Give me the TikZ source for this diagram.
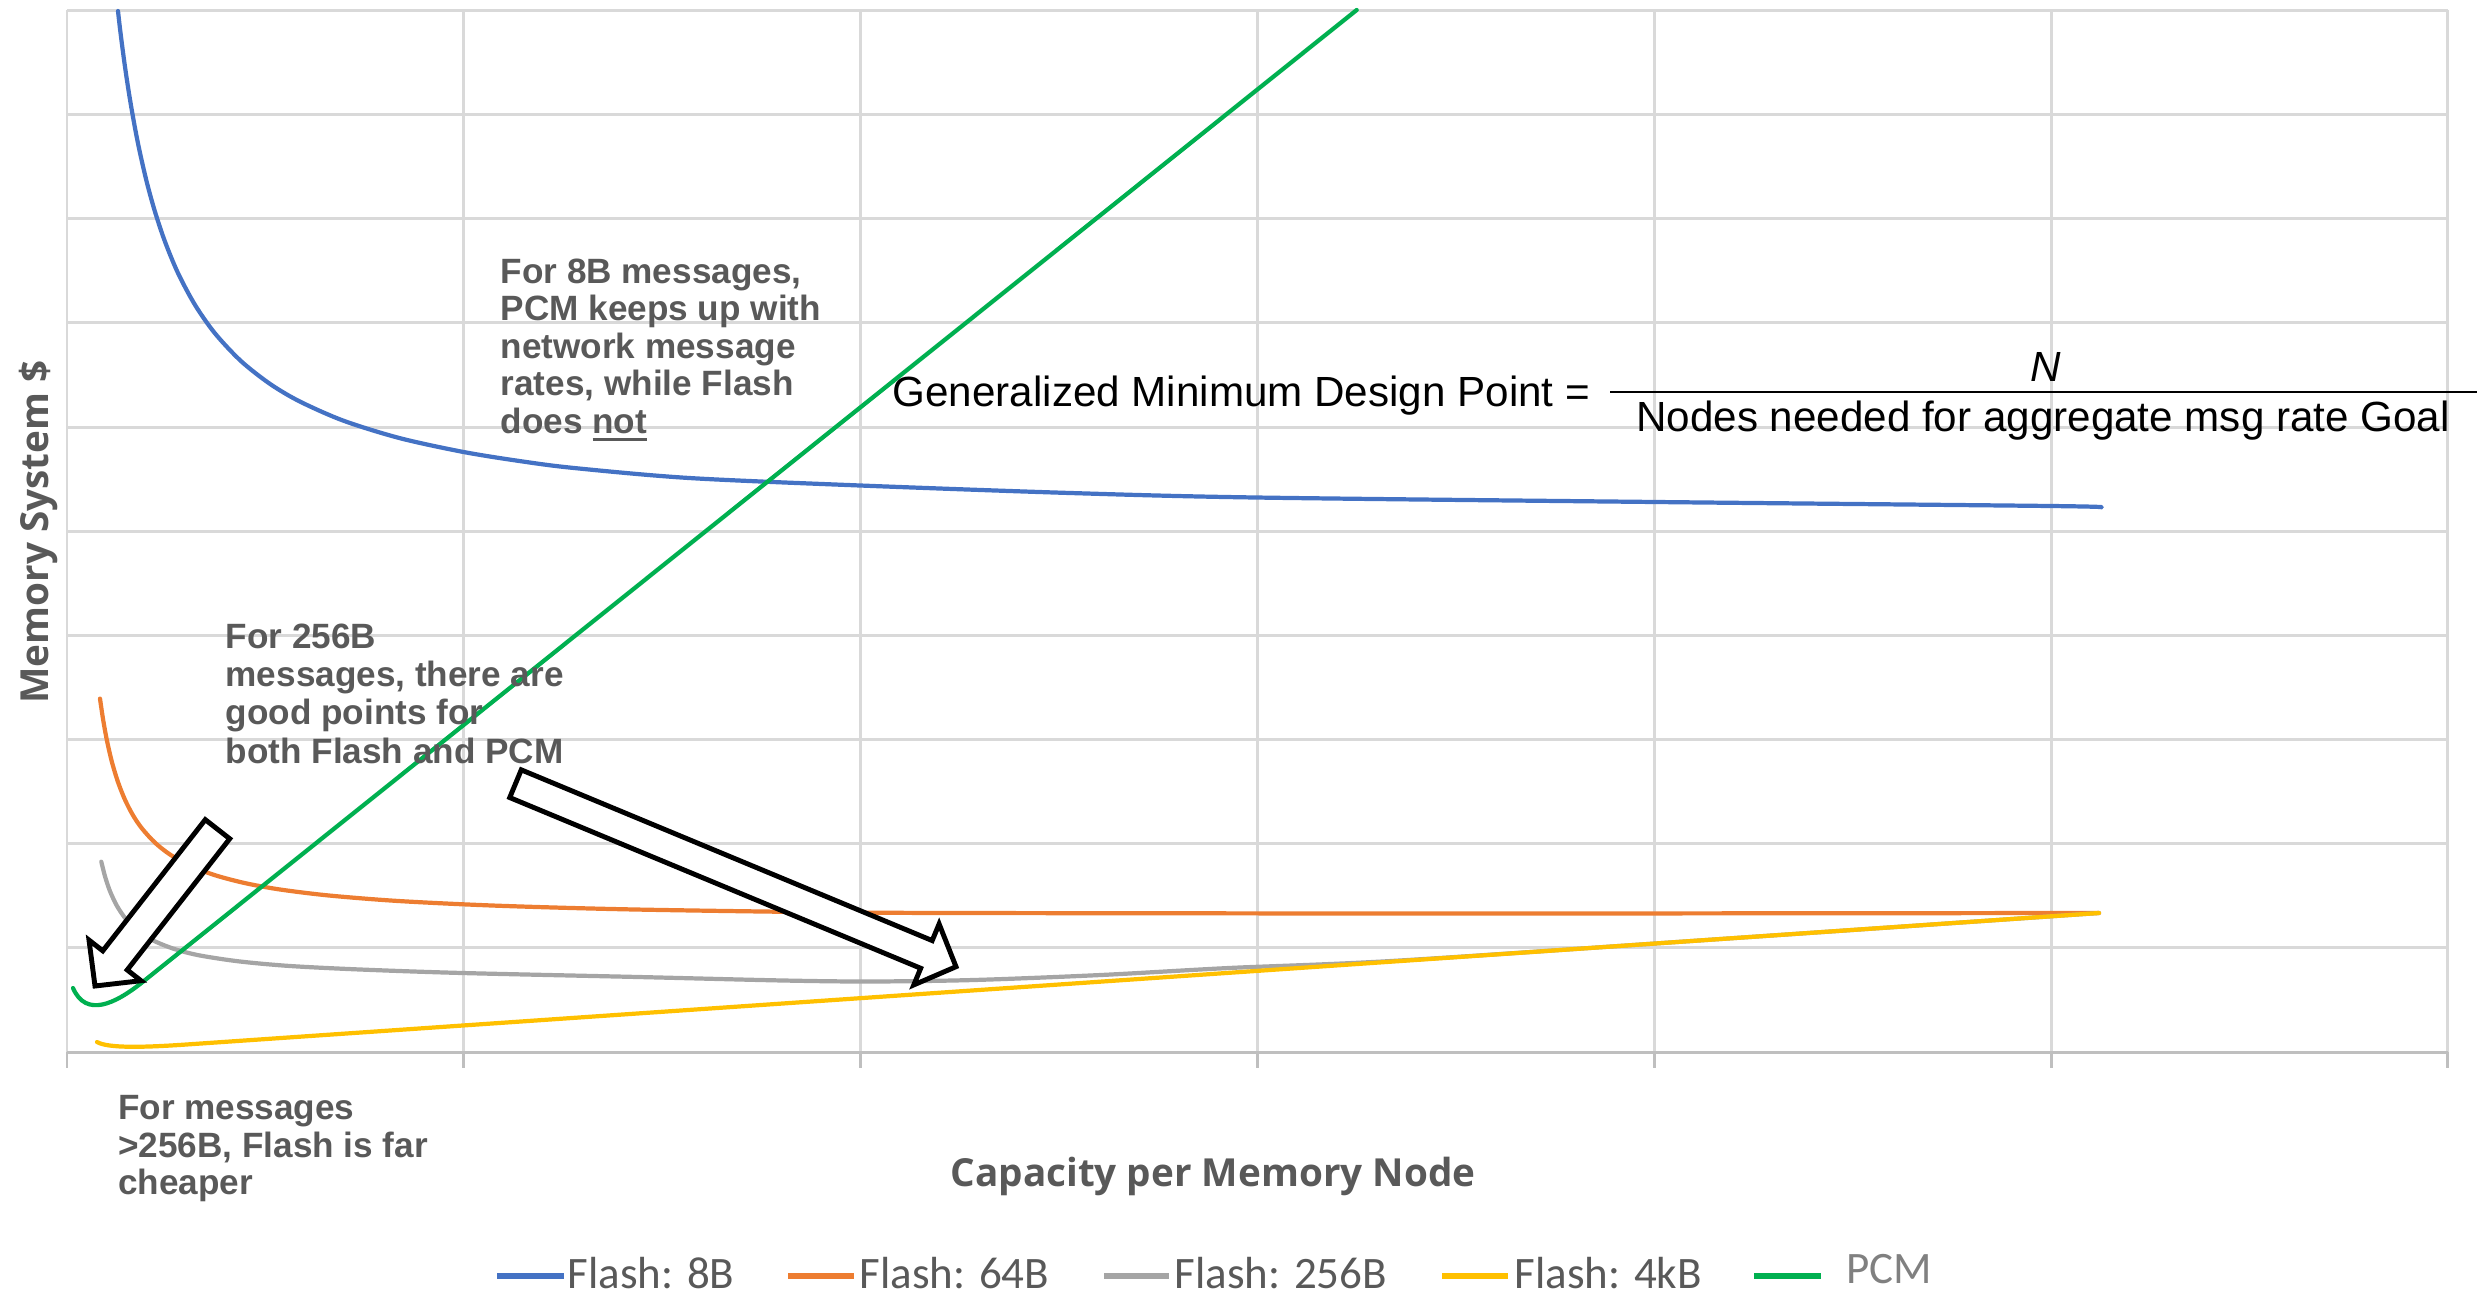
\documentclass[tikz,border=0pt]{standalone}
\usepackage{fontspec}
\setmainfont{Liberation Sans}
\newfontfamily\legfont{Carlito}
\newfontfamily\axfont{Open Sans}
\usetikzlibrary{calc}
\definecolor{cblue}{HTML}{4472C4}
\definecolor{corange}{HTML}{ED7D31}
\definecolor{cgray}{HTML}{A5A5A5}
\definecolor{cyellow}{HTML}{FFC000}
\definecolor{cgreen}{HTML}{00B050}
\definecolor{cgrid}{HTML}{D9D9D9}
\definecolor{caxis}{HTML}{BFBFBF}
\definecolor{ctext}{HTML}{595959}
\definecolor{clight}{HTML}{808080}
\newsavebox\ulbox
\newcommand\ulword[1]{\sbox\ulbox{#1}\rlap{\rule[-2.2pt]{\wd\ulbox}{0.9pt}}\usebox\ulbox}
\begin{document}
\begin{tikzpicture}[x=0.1mm, y=-0.1mm,
  gridline/.style={cgrid, line width=0.85pt},
  axisline/.style={caxis, line width=0.85pt},
  curve/.style={line width=1.2pt, line join=round, line cap=round},
  legline/.style={line width=1.45pt},
  note/.style={font=\bfseries\fontsize{10}{10.67}\selectfont, text=ctext, align=left, inner sep=0pt, anchor=north west},
  formula/.style={font=\fontsize{12}{14}\selectfont, text=black, inner sep=0pt},
  axtitle/.style={font=\axfont\bfseries\fontsize{11}{12}\selectfont, text=ctext, inner sep=0pt},
  legtext/.style={font=\legfont\fontsize{12.8}{14}\selectfont, text=ctext, inner sep=0pt, anchor=base west},
  blockarrow/.style={draw=black, fill=white, line width=1.4pt, line join=miter}]
\useasboundingbox (0,0) rectangle (2483,1304);

% grid
\foreach \i in {0,...,6}
  \draw[gridline] ({67+396.8*\i},10.5) -- ({67+396.8*\i},1052);
\foreach \j in {0,...,9}
  \draw[gridline] (67,{10.5+104.15*\j}) -- (2448,{10.5+104.15*\j});
\draw[axisline] (67,1052) -- (2448,1052);
\foreach \i in {0,...,6}
  \draw[axisline] ({67+396.8*\i},1052) -- ({67+396.8*\i},1068);

% series
\draw[curve, cblue] plot[smooth] coordinates {(118,11) (120,28.6) (123,52.2) (126,73.8) (130,99.6) (135,128) (140,152.9) (147,183) (155,211.8) (165,241.7) (178,273.1) (195,304.9) (215,333.4) (241,361.1) (270,383.9) (300,401.6) (344,420.9) (400,438.2) (463,451.9) (520,461.1) (574,468) (689,478) (860,485.5) (1070,493) (1255,497.5) (1655,502) (2050,506) (2101,507.3)};
\draw[curve, corange] plot[smooth] coordinates {(100,698.6) (103,718.9) (107,740.8) (112,762.3) (118,782.1) (125,799.8) (133,815.3) (142,828.5) (155,842.7) (170,854.5) (190,865.6) (215,875.2) (245,883.1) (280,889.5) (330,895.6) (400,901.1) (500,905.8) (640,909.6) (860,912.6) (1100,913.2) (1500,913.5) (2099,913)};
\draw[curve, cgray] plot[smooth] coordinates {(101.3,861.7) (105,876.3) (110,891.2) (117,906) (126,919.2) (137,930.1) (153,940.4) (175,949.2) (200,955.5) (240,961.5) (290,966) (360,969.5) (462,973) (638,977) (783,980.5) (870,981.5) (974,980) (1101,975) (1229,968) (1400,960.5) (1750,937) (2099,913)};
\draw[curve, cyellow] (97,1042) .. controls (108,1048.5) and (145,1047.3) .. (185,1044.6) -- (2099,913);
\draw[curve, cgreen] (73,988) .. controls (86,1018) and (115,1004.1) .. (143,981.7) -- (1356.7,10);

% annotations
\node[note] (n8) at (500,258) {For 8B messages,\\PCM keeps up with\\network message\\rates, while Flash\\does \ulword{not}};
\node[note, font=\bfseries\fontsize{10}{10.9}\selectfont] (n256) at (225,623) {For 256B\\messages, there are\\good points for\\both Flash and PCM};
\node[note] (nbig) at (117.5,1095) {For messages\\>256B, Flash is far\\cheaper};

% formula
\node[formula, anchor=base west] (gmdp) at (892,407) {Generalized Minimum Design Point =};
\draw[black, line width=0.8pt] (1610,392) -- (2477,392);
\node[formula, anchor=base] (num) at (2046,381.7) {\itshape N};
\node[formula, anchor=base] (den) at (2043,431.7) {Nodes needed for aggregate msg rate Goal};

% axis titles
\node[axtitle, anchor=base] (xt) at (1213,1186.7) {Capacity per Memory Node};
\node[axtitle, anchor=base, rotate=90] (yt) at (48,532) {Memory System \$};

% legend
\draw[legline, cblue] (497,1276) -- (564,1276);
\node[legtext] (l1) at (567,1288.3) {Flash: 8B};
\draw[legline, corange] (788,1276) -- (854,1276);
\node[legtext] (l2) at (859,1288.3) {Flash: 64B};
\draw[legline, cgray] (1104,1276) -- (1169,1276);
\node[legtext] (l3) at (1174,1288.3) {Flash: 256B};
\draw[legline, cyellow] (1442,1276) -- (1508,1276);
\node[legtext] (l4) at (1514,1288.3) {Flash: 4kB};
\draw[legline, cgreen] (1754,1276) -- (1821,1276);
\node[legtext, text=clight] (l5) at (1846,1283) {PCM};

% block arrows
\coordinate (a1t) at (217.5,829.2);
\coordinate (a1p) at (95,986);
\coordinate (a1h) at ($(a1p)!3.25mm!(a1t)$);
\draw[blockarrow] ($(a1t)!1.55mm!90:(a1p)$) -- ($(a1h)!1.55mm!90:(a1p)$) -- ($(a1h)!3.3mm!90:(a1p)$) -- (a1p) -- ($(a1h)!3.3mm!-90:(a1p)$) -- ($(a1h)!1.55mm!-90:(a1p)$) -- ($(a1t)!1.55mm!-90:(a1p)$) -- cycle;
\coordinate (a2t) at (515.5,783.7);
\coordinate (a2p) at (956,966.7);
\coordinate (a2h) at ($(a2p)!3.2mm!(a2t)$);
\draw[blockarrow] ($(a2t)!1.5mm!90:(a2p)$) -- ($(a2h)!1.5mm!90:(a2p)$) -- ($(a2h)!3.3mm!90:(a2p)$) -- (a2p) -- ($(a2h)!3.3mm!-90:(a2p)$) -- ($(a2h)!1.5mm!-90:(a2p)$) -- ($(a2t)!1.5mm!-90:(a2p)$) -- cycle;
\end{tikzpicture}
\end{document}
